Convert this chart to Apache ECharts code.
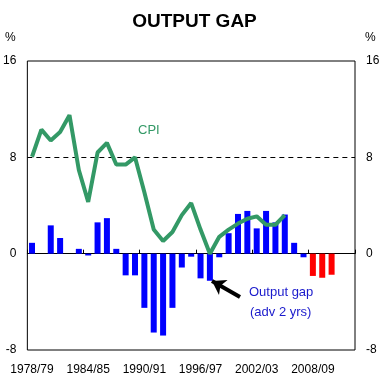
<!DOCTYPE html>
<html>
<head>
<meta charset="utf-8">
<script src="https://cdn.jsdelivr.net/npm/echarts@6/dist/echarts.min.js"></script>
<style>
html,body{margin:0;padding:0;background:#fff;}
#c{width:389px;height:385px;}
</style>
</head>
<body>
<div id="c"></div>
<script>
var categories = ['1978/79','1979/80','1980/81','1981/82','1982/83','1983/84','1984/85','1985/86','1986/87','1987/88',
  '1988/89','1989/90','1990/91','1991/92','1992/93','1993/94','1994/95','1995/96','1996/97','1997/98',
  '1998/99','1999/00','2000/01','2001/02','2002/03','2003/04','2004/05','2005/06','2006/07','2007/08',
  '2008/09','2009/10','2010/11','2011/12','2012/13'];
var outputGap = [0.9, null, 2.35, 1.3, null, 0.4, -0.15, 2.6, 2.95, 0.4,
  -1.8, -1.8, -4.5, -6.55, -6.8, -4.5, -1.15, -0.25, -2.05, -2.25,
  -0.3, 1.7, 3.3, 3.55, 2.1, 3.55, 2.6, 3.25, 0.9, -0.3,
  null, null, null, null, null];
var outputGapForecast = [null, null, null, null, null, null, null, null, null, null,
  null, null, null, null, null, null, null, null, null, null,
  null, null, null, null, null, null, null, null, null, null,
  -1.85, -2.0, -1.75, null, null];
var cpi = [8.05, 10.3, 9.4, 10.1, 11.5, 6.95, 4.3, 8.4, 9.2, 7.4,
  7.4, 8.0, 5.1, 2.0, 1.05, 1.8, 3.2, 4.2, 2.0, 0.0,
  1.4, 2.0, 2.5, 2.9, 3.1, 2.4, 2.4, 3.2];
var yTicks = {min: -8, max: 16, interval: 8};

var FONT = 'Liberation Sans';
var chart = echarts.init(document.getElementById('c'));
chart.setOption({
  animation: false,
  backgroundColor: '#fff',
  title: {
    text: 'OUTPUT GAP', left: 'center', top: 7,
    textStyle: {fontFamily: FONT, fontSize: 19, fontWeight: 'bold', color: '#000'}
  },
  grid: {left: 26, right: 34, top: 61, bottom: 35, show: true, borderColor: '#000', borderWidth: 1, backgroundColor: 'transparent'},
  xAxis: [{
    type: 'category', data: categories, position: 'bottom',
    axisLine: {show: false, onZero: false},
    axisTick: {show: false},
    axisLabel: {interval: 5, margin: 14, fontFamily: FONT, fontSize: 12, color: '#000'},
    splitLine: {show: false}
  }, {
    type: 'category', data: categories, position: 'bottom',
    axisLine: {show: true, onZero: true, lineStyle: {color: '#000', width: 1}},
    axisTick: {show: true, inside: true, interval: 5, length: 4, lineStyle: {color: '#000'}},
    axisLabel: {show: false},
    splitLine: {show: false}
  }],
  yAxis: [{
    type: 'value', position: 'left', min: yTicks.min, max: yTicks.max, interval: yTicks.interval,
    axisLine: {show: false}, axisTick: {show: false}, splitLine: {show: false},
    axisLabel: {margin: 11, fontFamily: FONT, fontSize: 12, color: '#000'}
  }, {
    type: 'value', position: 'right', min: yTicks.min, max: yTicks.max, interval: yTicks.interval,
    axisLine: {show: false}, axisTick: {show: false}, splitLine: {show: false},
    axisLabel: {margin: 11, fontFamily: FONT, fontSize: 12, color: '#000'}
  }],
  graphic: [
    {type: 'text', left: 5, top: 32, style: {text: '%', fontFamily: FONT, fontSize: 12, fill: '#000'}},
    {type: 'text', left: 365, top: 32, style: {text: '%', fontFamily: FONT, fontSize: 12, fill: '#000'}},
    {type: 'text', left: 138, top: 124, style: {text: 'CPI', fontFamily: FONT, fontSize: 13, fill: '#339966'}},
    {type: 'text', left: 249, top: 286, style: {text: 'Output gap', fontFamily: FONT, fontSize: 13, fill: '#1a1acc'}},
    {type: 'text', left: 250, top: 306, style: {text: '(adv 2 yrs)', fontFamily: FONT, fontSize: 13, fill: '#1a1acc'}}
  ],
  series: [{
    name: 'Output gap', type: 'bar', xAxisIndex: 0, yAxisIndex: 0,
    data: outputGap, barWidth: 6, barGap: '-100%',
    itemStyle: {color: '#0000ff'},
    markLine: {
      silent: true, symbol: ['none', 'none'], label: {show: false},
      lineStyle: {color: '#000', type: [5, 4], width: 1},
      data: [{yAxis: 8}]
    }
  }, {
    name: 'Output gap forecast', type: 'bar', xAxisIndex: 0, yAxisIndex: 0,
    data: outputGapForecast, barWidth: 6, barGap: '-100%',
    itemStyle: {color: '#ff0000'},
    markLine: {
      silent: true, label: {show: false}, symbol: ['none', 'arrow'], symbolSize: [13, 13],
      lineStyle: {color: '#000', type: 'solid', width: 4},
      data: [[{x: 240, y: 297}, {x: 212, y: 281}]]
    }
  }, {
    name: 'CPI', type: 'line', xAxisIndex: 0, yAxisIndex: 0,
    data: cpi, showSymbol: false, symbol: 'none',
    lineStyle: {color: '#339966', width: 4}, itemStyle: {color: '#339966'}, z: 5
  }]
});
</script>
</body>
</html>
